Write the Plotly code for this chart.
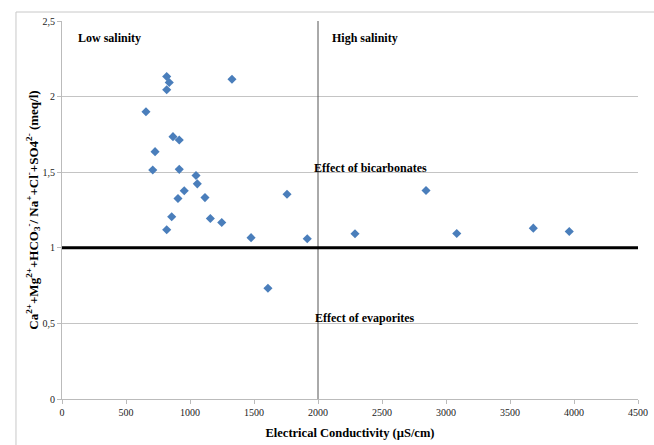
import plotly.graph_objects as go

ec = [818, 838, 818, 1328, 656, 867, 916, 727, 709, 916, 1047, 1057, 955, 906, 1117,
      1758, 857, 818, 1159, 1248, 1477, 1916, 2289, 1609, 2844, 3084, 3682, 3963]
ratio = [2.133, 2.093, 2.045, 2.115, 1.90, 1.735, 1.713, 1.636, 1.515, 1.519, 1.478, 1.423,
         1.377, 1.326, 1.332, 1.354, 1.205, 1.119, 1.194, 1.167, 1.067, 1.060, 1.093,
         0.732, 1.379, 1.095, 1.130, 1.108]

ref_ratio_x = [0, 4500]
ref_ratio_y = [1, 1]
salinity_x = [2000, 2000]
salinity_y = [0, 2.5]

x_ticks = [0, 500, 1000, 1500, 2000, 2500, 3000, 3500, 4000, 4500]
y_ticks = [0, 0.5, 1, 1.5, 2, 2.5]
y_tick_text = ["0", "0,5", "1", "1,5", "2", "2,5"]

labels = [
    ("Low salinity", 110, 2.385),
    ("High salinity", 2090, 2.39),
    ("Effect of bicarbonates", 1950, 1.53),
    ("Effect of evaporites", 1958, 0.535),
]

SERIF = "Liberation Serif"

fig = go.Figure()
fig.add_trace(go.Scatter(x=salinity_x, y=salinity_y, mode="lines",
                         line=dict(color="#555555", width=1), showlegend=False, hoverinfo="skip"))
fig.add_trace(go.Scatter(x=ref_ratio_x, y=ref_ratio_y, mode="lines",
                         line=dict(color="#000000", width=3), showlegend=False, hoverinfo="skip"))
fig.add_trace(go.Scatter(x=ec, y=ratio, mode="markers",
                         marker=dict(symbol="diamond", size=7, color="#4a7ebb"),
                         showlegend=False))

for text, x, y in labels:
    fig.add_annotation(x=x, y=y, text=f"<b>{text}</b>", showarrow=False,
                       xanchor="left", yanchor="middle",
                       font=dict(family=SERIF, size=12, color="#000000"))

fig.add_shape(type="rect", xref="paper", yref="paper",
              x0=-0.0799, x1=1.04, y0=-0.135, y1=1.0238,
              line=dict(color="#c8c8c8", width=1), fillcolor="rgba(0,0,0,0)", layer="below")

fig.update_layout(
    width=654, height=445,
    margin=dict(l=62, r=16, t=21, b=46, autoexpand=False),
    paper_bgcolor="white", plot_bgcolor="white",
    font=dict(family=SERIF, size=10, color="#222222"),
    xaxis=dict(range=[0, 4500], tickvals=x_ticks, ticktext=[str(v) for v in x_ticks],
               automargin=False,
               showgrid=False, zeroline=False, showline=True, linecolor="#bbbbbb", linewidth=1,
               ticks="outside", ticklen=4, tickcolor="#bbbbbb",
               title=dict(text="<b>Electrical Conductivity (µS/cm)</b>",
                          font=dict(family=SERIF, size=12.5, color="#000000"), standoff=11)),
    yaxis=dict(range=[0, 2.5], tickvals=y_ticks, ticktext=y_tick_text,
               automargin=False,
               showgrid=True, gridcolor="#c4c4c4", gridwidth=1, zeroline=False,
               showline=True, linecolor="#bbbbbb", linewidth=1,
               ticks="outside", ticklen=4, tickcolor="#bbbbbb",
               title=dict(text="<b>Ca<sup>2+</sup>+Mg<sup>2+</sup>+HCO<sub>3</sub><sup>-</sup>/ Na<sup>+</sup>+Cl<sup>-</sup>+SO4<sup>2-</sup> (meq/l)</b>",
                          font=dict(family=SERIF, size=13, color="#000000"), standoff=0)),
)

fig.write_html("out.html")
